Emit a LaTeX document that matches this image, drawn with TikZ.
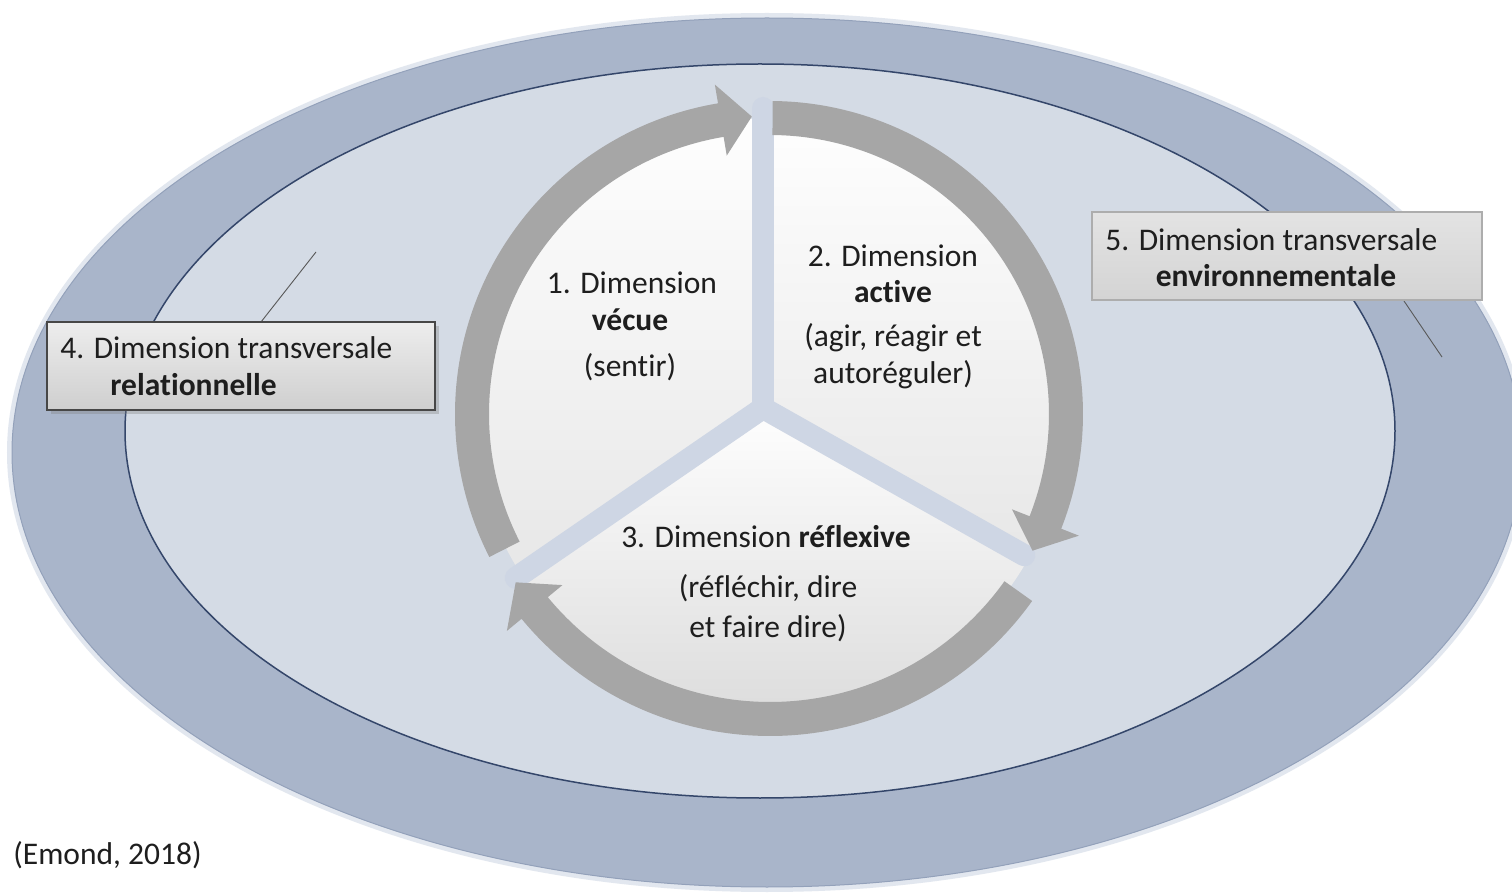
\documentclass[tikz,border=0pt]{standalone}
\usepackage{fontspec}
\setmainfont{Carlito}[RawFeature={-liga;-clig;-calt;-dlig}]
\usetikzlibrary{calc,shadows}
\definecolor{outerband}{HTML}{A9B5CA}
\definecolor{outerglow}{HTML}{E2E7EF}
\definecolor{outeredge}{HTML}{93A1BA}
\definecolor{innerfill}{HTML}{D4DBE5}
\definecolor{gapcol}{HTML}{CED6E4}
\definecolor{innerline}{HTML}{34466A}
\definecolor{arrowgray}{HTML}{A6A6A6}
\definecolor{secbot}{HTML}{E6E6E6}
\definecolor{secbotb}{HTML}{DCDCDC}
\definecolor{txt}{HTML}{1E1E1E}
\newcommand{\circarrow}[5]{%
  \pgfmathsetmacro{\arcRo}{#2+17}\pgfmathsetmacro{\arcRi}{#2-17}%
  \pgfmathsetmacro{\arcHo}{#2+36}\pgfmathsetmacro{\arcHi}{#2-36}%
  \fill[arrowgray] ($(#1)+(#3:\arcRo)$) arc[start angle=#3, end angle=#4, radius=\arcRo]
    -- ($(#1)+(#4:\arcHo)$) -- ($(#1)+(#5:#2)$) -- ($(#1)+(#4:\arcHi)$)
    -- ($(#1)+(#4:\arcRi)$) arc[start angle=#4, end angle=#3, radius=\arcRi] -- cycle;}
\begin{document}
\begin{tikzpicture}[x=0.5pt,y=0.5pt,
  every node/.style={font=\fontsize{15.75}{18.5}\selectfont, text=txt, inner sep=0pt},
  boxfour/.style={draw=black!72, line width=1pt, top color=black!7, bottom color=black!19,
    minimum width=194pt, minimum height=44pt,
    drop shadow={shadow xshift=2pt, shadow yshift=-2pt, opacity=0.35}},
  boxfive/.style={draw=black!32, line width=0.6pt, top color=black!11, bottom color=black!17,
    minimum width=195pt, minimum height=44pt},
  leader/.style={draw=black!65, line width=0.45pt},
  gapstrip/.style={draw=gapcol, line width=11pt, line cap=round}]
\useasboundingbox (0,0) rectangle (1512,-893);
\clip (0,0) rectangle (1512,-893);
\fill[white] (0,0) rectangle (1512,-893);
% outer and inner ellipses
\draw[outerglow, line width=3pt] (767,-452.5) ellipse[x radius=757, y radius=436.5];
\fill[outerband] (767,-452.5) ellipse[x radius=755, y radius=434.5];
\draw[outeredge, line width=0.5pt] (767,-452.5) ellipse[x radius=755, y radius=434.5];
\fill[innerfill] (760,-431) ellipse[x radius=635, y radius=367];
\draw[innerline, line width=0.75pt] (760,-431) ellipse[x radius=635, y radius=367];
% centre of the cycle
\coordinate (C) at (770,-414);
\coordinate (J) at (763,-408);
% sectors
\begin{scope}
  \clip (C) circle[radius=296];
  \clip (J) -- ($(J)+(90:900)$) -- ($(J)+(150:900)$) -- ($(J)+(214.5:900)$) -- cycle;
  \shade[top color=white, bottom color=secbot] (440,-100) rectangle (790,-600);
\end{scope}
\begin{scope}
  \clip (C) circle[radius=296];
  \clip (J) -- ($(J)+(90:900)$) -- ($(J)+(30:900)$) -- ($(J)+(-29.4:900)$) -- cycle;
  \shade[top color=white, bottom color=secbot] (740,-100) rectangle (1100,-580);
\end{scope}
\begin{scope}
  \clip (C) circle[radius=296];
  \clip (J) -- ($(J)+(-29.4:900)$) -- ($(J)+(-90:900)$) -- ($(J)+(214.5:900)$) -- cycle;
  \shade[top color=white, bottom color=secbotb] (440,-400) rectangle (1100,-720);
\end{scope}
% gaps between sectors
\draw[gapstrip] (J) -- ($(J)+(90:300)$);
\draw[gapstrip] (J) -- ($(J)+(214.5:300)$);
\draw[gapstrip] (J) -- ($(J)+(-29.4:300)$);
% circular arrows
\circarrow{C}{298}{207}{99.5}{93.5}
\circarrow{C}{296}{89.5}{-21.5}{-27.5}
\circarrow{C}{305}{-35.5}{-140.5}{-146.5}
% texts in the cycle
\node (d1a) at (632,-283) {1. Dimension};
\node (d1b) at (630,-320) {\textbf{vécue}};
\node (d1c) at (630,-367) {(sentir)};
\node (d2a) at (893,-256) {2. Dimension};
\node (d2b) at (893,-292) {\textbf{active}};
\node (d2c) at (893,-338) {(agir, réagir et};
\node (d2d) at (893,-375) {autoréguler)};
\node (d3a) at (766,-537) {3. Dimension \textbf{réflexive}};
\node (d3b) at (768,-588) {(réfléchir, dire};
\node (d3c) at (768,-628) {et faire dire)};
% transversal dimension boxes
\coordinate (l4a) at (316,-252);
\coordinate (l4b) at (261,-322);
\draw[leader] (l4a) -- (l4b);
\node[boxfour] (box4) at (241,-366) {};
\node[anchor=west] (b4l1) at (60,-348) {4. Dimension transversale};
\node[anchor=west] (b4l2) at (110,-385) {\textbf{relationnelle}};
\coordinate (l5a) at (1404,-301);
\coordinate (l5b) at (1442,-357);
\draw[leader] (l5a) -- (l5b);
\node[boxfive] (box5) at (1287,-256) {};
\node[anchor=west] (b5l1) at (1105,-240) {5. Dimension transversale};
\node (b5l2) at (1276,-276) {\textbf{environnementale}};
% source
\node[anchor=west] (cite) at (13,-855) {(Emond, 2018)};
\end{tikzpicture}
\end{document}
